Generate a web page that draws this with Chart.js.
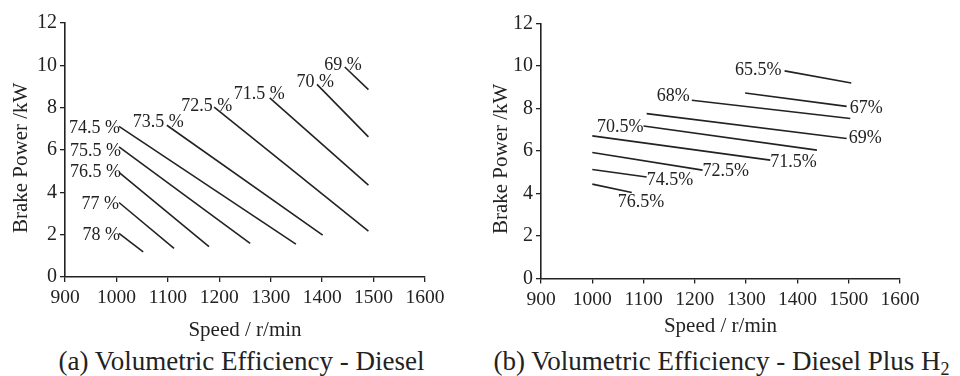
<!DOCTYPE html>
<html>
<head>
<meta charset="utf-8">
<title>Volumetric Efficiency</title>
<script src="https://cdn.jsdelivr.net/npm/chart.js@4.4.1/dist/chart.umd.min.js"></script>
<style>
  html, body { margin: 0; padding: 0; background: #fff; }
  #page { position: relative; width: 960px; height: 376px; overflow: hidden; }
  canvas { position: absolute; top: 0; }
  #dieselChart { left: 0; }
  #h2Chart { left: 480px; }
  .caption {
    position: absolute;
    top: 346px;
    font-family: 'Liberation Serif', serif;
    font-size: 27px;
    line-height: 30px;
    color: #222;
    text-align: center;
    white-space: nowrap;
  }
  .caption sub { font-size: 18px; line-height: 0; vertical-align: -5px; }
</style>
</head>
<body>
<div id="page">
  <canvas id="dieselChart" width="480" height="345"></canvas>
  <canvas id="h2Chart" width="480" height="345"></canvas>
  <div class="caption" style="left:0;width:483px">(a) Volumetric Efficiency - Diesel</div>
  <div class="caption" style="left:480px;width:483px">(b) Volumetric Efficiency - Diesel Plus H<sub>2</sub></div>
</div>
<script>
const speedTicks = [900, 1000, 1100, 1200, 1300, 1400, 1500, 1600];
const powerTicks = [0, 2, 4, 6, 8, 10, 12];

// (a) diesel - every contour is a straight segment start -> end
const dieselLevels = ['78 %', '77 %', '76.5 %', '75.5 %', '74.5 %', '73.5 %', '72.5 %', '71.5 %', '70 %', '69 %'];
const dieselStartSpeed = [1005, 1005, 1005, 1005, 1005, 1098, 1190, 1298, 1390, 1444];
const dieselStartPower = [2.06, 3.52, 4.94, 6.15, 7.12, 7.17, 8.03, 8.46, 9.1, 9.92];
const dieselEndSpeed = [1052, 1112, 1180, 1260, 1349, 1401, 1490, 1490, 1490, 1490];
const dieselEndPower = [1.19, 1.35, 1.43, 1.59, 1.55, 1.98, 2.17, 4.34, 6.62, 8.85];

// (b) diesel plus H2
const h2Levels = ['65.5%', '67%', '68%', '69%', '70.5%', '71.5%', '72.5%', '74.5%', '76.5%'];
const h2StartSpeed = [1375, 1298, 1194, 1106, 1100, 1000, 1000, 1000, 1000];
const h2StartPower = [9.77, 8.73, 8.39, 7.76, 7.18, 6.71, 5.93, 5.13, 4.44];
const h2EndSpeed = [1505, 1496, 1503, 1496, 1438, 1347, 1215, 1106, 1077];
const h2EndPower = [9.2, 8.1, 7.53, 6.59, 6.04, 5.57, 5.1, 4.78, 4.05];

// where each label sits: [which end, text align, dx px, dy px]
const dieselLabelPlace = [
  ['start', 'right', 1, 2], ['start', 'right', 0, 2], ['start', 'right', 2, 0],
  ['start', 'right', 2, 4], ['start', 'right', 1, 2], ['start', 'right', 17, -3],
  ['start', 'right', 18, -1], ['start', 'right', 15, -4], ['start', 'right', 17, -2],
  ['start', 'right', 17, -2]
];
const h2LabelPlace = [
  ['start', 'right', -3, -1], ['end', 'left', 3, 2], ['start', 'right', -2, -4],
  ['end', 'left', 2, 0], ['start', 'right', 0, 1], ['end', 'left', 0, 2],
  ['end', 'left', 0, 1], ['end', 'left', 0, 3], ['end', 'left', -14, 10]
];

const INK = '#222';
const SERIF = "'Liberation Serif', 'Times New Roman', serif";

// writes each contour's value next to one end of its segment
const contourLabels = {
  id: 'contourLabels',
  afterDatasetsDraw(chart, args, opts) {
    const ctx = chart.ctx;
    ctx.save();
    ctx.font = `${opts.size}px ${SERIF}`;
    ctx.fillStyle = INK;
    ctx.textBaseline = 'middle';
    chart.data.datasets.forEach((ds, i) => {
      const pts = chart.getDatasetMeta(i).data;
      const [end, align, dx, dy] = opts.place[i];
      const pt = end === 'start' ? pts[0] : pts[pts.length - 1];
      ctx.textAlign = align;
      ctx.fillText(ds.label, pt.x + dx, pt.y + dy);
    });
    ctx.restore();
  }
};

function axisStyle() {
  return {
    grid: { drawOnChartArea: false, drawTicks: true, tickLength: 5, color: INK, lineWidth: 1.3 },
    border: { display: true, color: INK, width: 1.6 },
  };
}

function buildChart(canvasId, levels, s0, p0, s1, p1, place, frame) {
  const datasets = levels.map((label, i) => ({
    label,
    data: [{ x: s0[i], y: p0[i] }, { x: s1[i], y: p1[i] }],
    borderColor: INK,
    borderWidth: 1.6,
    pointRadius: 0,
    fill: false,
    tension: 0,
  }));

  return new Chart(document.getElementById(canvasId), {
    type: 'line',
    data: { datasets },
    options: {
      responsive: false,
      animation: false,
      layout: { padding: { left: 0, right: frame.right, top: frame.top, bottom: 0 } },
      plugins: {
        legend: { display: false },
        tooltip: { enabled: false },
        contourLabels: { place, size: 18 },
      },
      scales: {
        x: {
          type: 'linear',
          min: speedTicks[0],
          max: speedTicks[speedTicks.length - 1],
          afterBuildTicks: (axis) => { axis.ticks = speedTicks.map(v => ({ value: v })); },
          afterFit: (axis) => { axis.height = frame.xHeight; },
          ...axisStyle(),
          ticks: {
            autoSkip: false, maxRotation: 0, padding: 4.5, color: INK,
            font: { family: SERIF, size: 19.5 },
            callback: (v) => String(v),
          },
          title: {
            display: true, text: 'Speed / r/min', color: INK,
            font: { family: SERIF, size: 21 },
            padding: { top: 0, bottom: frame.xTitlePad },
          },
        },
        y: {
          type: 'linear',
          min: powerTicks[0],
          max: powerTicks[powerTicks.length - 1],
          afterBuildTicks: (axis) => { axis.ticks = powerTicks.map(v => ({ value: v })); },
          afterFit: (axis) => { axis.width = frame.yWidth; },
          ...axisStyle(),
          ticks: {
            padding: 3, color: INK,
            font: { family: SERIF, size: 20 },
            callback: (v) => String(v),
          },
          title: {
            display: true,
            // trailing no-break spaces nudge the rotated title a little lower, as in the original
            text: 'Brake Power /kW\u00a0\u00a0\u00a0',
            color: INK,
            font: { family: SERIF, size: 21 },
            padding: { top: 9, bottom: 0 },
          },
        },
      },
    },
    plugins: [contourLabels],
  });
}

buildChart('dieselChart', dieselLevels, dieselStartSpeed, dieselStartPower,
  dieselEndSpeed, dieselEndPower, dieselLabelPlace,
  { yWidth: 65, right: 55, top: 23, xHeight: 68, xTitlePad: 1.5 });

buildChart('h2Chart', h2Levels, h2StartSpeed, h2StartPower,
  h2EndSpeed, h2EndPower, h2LabelPlace,
  { yWidth: 61, right: 60, top: 23.5, xHeight: 66.5, xTitlePad: 6 });
</script>
</body>
</html>
